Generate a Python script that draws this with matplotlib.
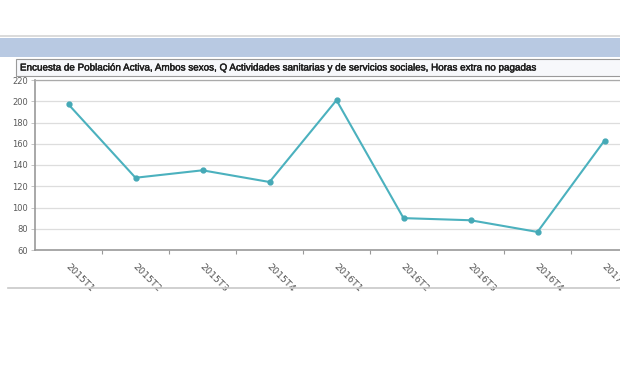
import matplotlib
matplotlib.use("Agg")
import matplotlib.pyplot as plt
import matplotlib.patheffects as pe
from matplotlib.patches import Rectangle
from matplotlib.lines import Line2D

# data
quarters = ["2015T1", "2015T2", "2015T3", "2015T4", "2016T1",
            "2016T2", "2016T3", "2016T4", "2017T1"]
hours = [197, 128, 135, 124, 201, 90, 88, 77, 163]
y_ticks = [60, 80, 100, 120, 140, 160, 180, 200, 220]
title = ("Encuesta de Población Activa, Ambos sexos, Q Actividades sanitarias "
         "y de servicios sociales, Horas extra no pagadas")

W, H = 620, 368
fig = plt.figure(figsize=(W / 100, H / 100), dpi=100)
fig.patch.set_facecolor("white")


def px_rect(x0, y0, x1, y1, **kw):
    # rectangle given in pixel coords (origin top-left)
    r = Rectangle((x0 / W, 1 - y1 / H), (x1 - x0) / W, (y1 - y0) / H,
                  transform=fig.transFigure, **kw)
    fig.add_artist(r)


def px_line(x0, y0, x1, y1, **kw):
    ln = Line2D([x0 / W, x1 / W], [1 - y0 / H, 1 - y1 / H],
                transform=fig.transFigure, **kw)
    fig.add_artist(ln)


# header bands
px_line(0, 36, W, 36, color="#d4d4d4", lw=1.2)
px_rect(0, 38, W, 57, facecolor="#b8c9e2", edgecolor="none")
px_rect(16, 59, W + 5, 75.5, facecolor="#f7f8fb", edgecolor="#9a9a9a", lw=0.8)
fig.text(20 / W, 1 - 67.5 / H, title, fontsize=7.1, family="Liberation Sans",
         color="#1c1c1c", va="center", ha="left",
         path_effects=[pe.withStroke(linewidth=0.3, foreground="#1c1c1c")])

# bottom frame line
px_line(8, 288, W, 288, color="#c8c8c8", lw=1.2)

# plot area
left, top, bottom = 35, 80, 250
right = left + 67 * 9
ax = fig.add_axes([left / W, 1 - bottom / H, (right - left) / W, (bottom - top) / H])

x = list(range(len(quarters)))
ax.plot(x, hours, color="#4bb1be", lw=1.5, marker="o", markersize=3.5,
        markerfacecolor="#45a9b6", markeredgecolor="#45a9b6", clip_on=False)

ax.set_xlim(-0.5, len(quarters) - 0.5)
ax.set_ylim(60, 220)
ax.set_yticks(y_ticks)
ax.set_yticklabels([str(v) for v in y_ticks], fontsize=6, color="#5a5a5a")
ax.grid(axis="y", color="#dddddd", lw=0.9)
ax.set_axisbelow(True)

ax.set_xticks([i + 0.5 for i in x[:-1]])
ax.set_xticklabels([])
ax.tick_params(axis="x", length=3, color="#999999", width=0.8)
ax.tick_params(axis="y", length=3, color="#bbbbbb", width=0.6, pad=2)

for i, q in enumerate(quarters):
    ax.annotate(q, xy=(i, 60), xycoords="data", xytext=(-1, -11),
                textcoords="offset points", rotation=-45, rotation_mode="anchor",
                ha="left", va="center", fontsize=6.8, color="#555555",
                annotation_clip=False)

for side in ["left", "bottom"]:
    ax.spines[side].set_color("#9a9a9a")
    ax.spines[side].set_linewidth(1.2)
ax.spines["top"].set_color("#aaaaaa")
ax.spines["top"].set_linewidth(0.9)
ax.spines["right"].set_visible(False)

fig.savefig("out.png", dpi=100)
